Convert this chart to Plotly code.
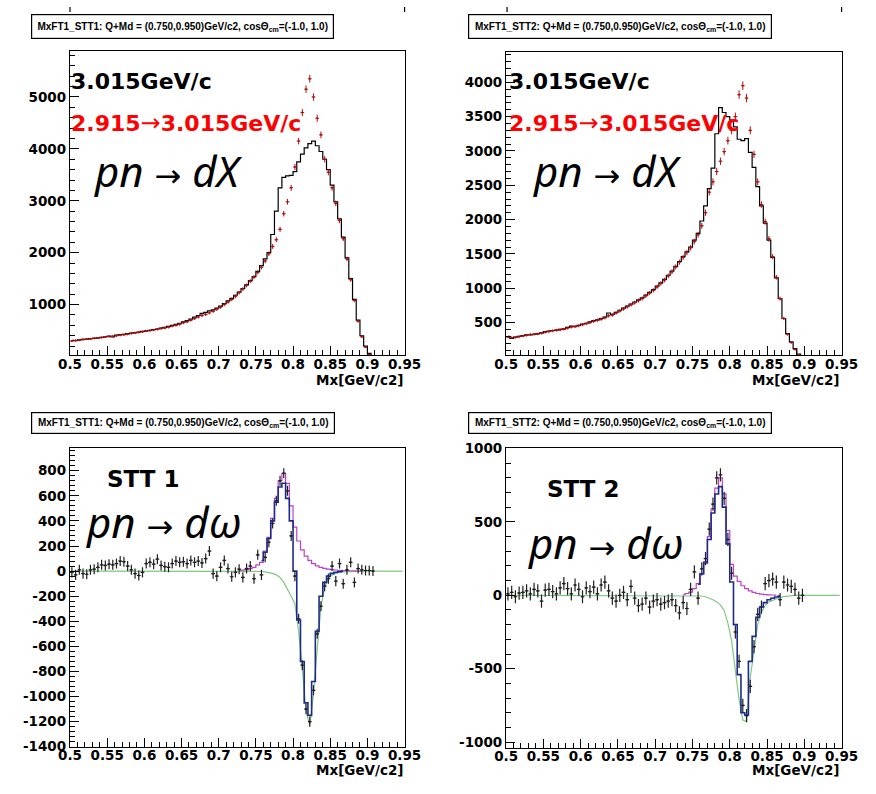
import numpy as np
import plotly.graph_objects as go

W, H = 876, 794
BIN_LO = 0.5
BIN_W = 0.005
X_RANGE = [0.5, 0.95]

# ---------------- data (bin contents, bins of 0.005 starting at 0.5) ----------------
# Top-left: STT1, pn -> dX
STT1_DX_3015 = [
    310, 305, 320, 330, 335, 345, 350, 360, 370, 380,
    395, 375, 410, 420, 425, 440, 450, 460, 470, 485,
    495, 505, 520, 530, 545, 560, 580, 600, 620, 640,
    665, 690, 720, 760, 790, 830, 850, 880, 900, 930,
    970, 1020, 1070, 1120, 1180, 1240, 1310, 1380, 1460, 1540,
    1640, 1750, 1880, 2000, 2350, 2800, 3250, 3450, 3480, 3490,
    3560, 3750, 3900, 4020, 4100, 4150, 4060, 3950, 3800, 3600,
    3300, 2980, 2650, 2300, 1900, 1500, 1100, 700, 400, 200,
    60, 0]
STT1_DX_2915_3015 = [
    300, 310, 315, 325, 335, 340, 350, 355, 365, 375,
    385, 390, 400, 410, 420, 430, 445, 455, 465, 475,
    490, 500, 510, 525, 540, 550, 565, 585, 600, 620,
    650, 670, 700, 730, 760, 790, 810, 840, 870, 910,
    950, 1000, 1050, 1100, 1160, 1230, 1300, 1370, 1450, 1530,
    1620, 1720, 1840, 1980, 2120, 2250, 2450, 2750, 2980, 3250,
    3650, 4150, 4700, 5150, 5350, 5000, 4590, 4270, 3800, 3550,
    3250, 2950, 2620, 2270, 1880, 1480, 1080, 680, 380, 180,
    40, 0]

# Top-right: STT2, pn -> dX
STT2_DX_3015 = [
    300, 270, 290, 300, 310, 320, 320, 330, 340, 350,
    370, 375, 385, 390, 400, 410, 430, 450, 440, 460,
    480, 490, 510, 530, 540, 560, 580, 640, 620, 650,
    680, 710, 740, 770, 800, 830, 860, 900, 940, 980,
    1030, 1080, 1130, 1190, 1250, 1320, 1390, 1460, 1530, 1600,
    1700, 1800, 1980, 2200, 2450, 2750, 3250, 3630, 3560, 3500,
    3450, 3350, 3170, 3150, 3180, 2980, 2760, 2480, 2200, 1950,
    1700, 1450, 1150, 850, 560, 340, 220, 120, 40, 0]
STT2_DX_2915_3015 = [
    290, 280, 285, 295, 305, 315, 325, 330, 335, 345,
    360, 370, 380, 390, 395, 405, 420, 435, 445, 455,
    470, 485, 500, 520, 535, 550, 570, 600, 610, 640,
    670, 700, 730, 760, 790, 820, 850, 890, 930, 970,
    1020, 1070, 1120, 1180, 1240, 1310, 1380, 1450, 1520, 1590,
    1680, 1780, 1910, 2100, 2400, 2550, 2700, 2850, 2990, 3150,
    3300, 3500, 3820, 3950, 3770, 3300, 2950, 2550, 2220, 1970,
    1720, 1460, 1160, 850, 560, 330, 210, 110, 30, 0]

# Bottom-left: STT1, pn -> d omega (background-subtracted)
STT1_OMEGA = [
    -10, -30, 10, -20, -25, 10, 15, 30, 50, 45,
    55, 50, 60, 80, 75, 40, 10, -20, -35, -10,
    60, 70, 55, 95, 45, 35, 30, 60, 80, 70,
    75, 60, 85, 70, 80, 65, 100, 160, -20, -40,
    30, 85, 20, -45, -10, 15, -50, 20, 40, -60,
    130, -30, 110, 230, 380, 560, 720, 780, 640, 280,
    -40, -380, -750, -1100, -1200, -950, -500, -280, -120, -60,
    40, -80, 60, -100, 10, 70, -90, 20, 10, 5,
    5, 0]
STT1_OMEGA_ERR = 40
STT1_SIGNAL_FIRST_BIN = 45
STT1_SIGNAL = [5, 8, 12, 20, 30, 50, 70, 160, 270, 420, 580, 720, 780, 700, 520, 350,
               240, 170, 120, 85, 60, 42, 30, 22, 16, 12, 9, 7, 5, 4, 3, 2, 1, 0]
STT1_BG = [
    0, 0, 0, 0, 0, 0, 0, 0, 0, 0,
    0, 0, 0, 0, 0, 0, 0, 0, 0, 0,
    0, 0, 0, 0, 0, 0, 0, 0, 0, 0,
    0, 0, 0, 0, 0, 0, 0, 0, 0, 0,
    0, 0, 0, 0, 0, 0, 0, 0, 0, 0,
    -2, -3, -6, -10, -18, -30, -50, -90, -140, -200,
    -260, -480, -780, -1120, -1230, -980, -620, -290, -130, -60,
    -30, -18, -10, -6, -4, -2, -1, 0, 0, 0,
    0, 0, 0, 0, 0, 0, 0, 0, 0, 0]
STT1_SUM_FIRST_BIN = 51
STT1_SUM = [85, 150, 260, 400, 550, 670, 700, 580, 400, 0, -390, -720, -1050, -1150,
            -880, -480, -200, -90, -40, -18, -9, -4, -1]

# Bottom-right: STT2, pn -> d omega
STT2_OMEGA = [
    10, 20, -10, 15, 20, 30, 10, 40, 30, -40,
    35, 40, 25, 10, 50, 80, 45, 10, 70, 40,
    -10, 50, 25, 55, 10, 70, 90, 30, -20, -40,
    0, 20, -30, 60, -20, -70, -60, -20, -80, -40,
    -30, -60, -50, -40, -30, -70, -120, -50, -90, 40,
    160, -20, 180, 250, 450, 620, 800, 820, 660, 380,
    150, -250, -450, -750, -820, -620, -350, -130, -80, 80,
    100, 110, 90, -30, 90, 70, 60, 40, -20, 0]
STT2_OMEGA_ERR = 45
STT2_SIGNAL_FIRST_BIN = 47
STT2_SIGNAL = [5, 12, 22, 45, 80, 150, 230, 400, 590, 730, 800, 690, 440, 210, 130, 95,
               65, 45, 30, 20, 12, 8, 5, 3, 2, 1]
STT2_BG = [
    0, 0, 0, 0, 0, 0, 0, 0, 0, 0,
    0, 0, 0, 0, 0, 0, 0, 0, 0, 0,
    0, 0, 0, 0, 0, 0, 0, 0, 0, 0,
    0, 0, 0, 0, 0, 0, 0, 0, 0, 0,
    0, 0, 0, 0, 0, 0, 0, 0, 0, 0,
    0, 0, -5, -10, -18, -30, -45, -65, -105, -190,
    -310, -500, -710, -850, -860, -560, -380, -200, -115, -70,
    -45, -35, -22, -14, -9, -5, -3, -1, 0, 0,
    0, 0, 0, 0, 0, 0, 0, 0, 0, 0]
STT2_SUM_FIRST_BIN = 51
STT2_SUM = [75, 145, 220, 380, 560, 690, 740, 600, 350, 90, -200, -540, -800, -815,
            -450, -280, -150, -80, -50, -30, -20, -12, -6]

# tick labels
Y3_TICKS = [-1400, -1200, -1000, -800, -600, -400, -200, 0, 200, 400, 600, 800]
Y4_TICKS = [-1000, -500, 0, 500, 1000]

TITLE_1 = "MxFT1_STT1: Q+Md = (0.750,0.950)GeV/c2, cos\u0398<sub>cm</sub>=(-1.0, 1.0)"
TITLE_2 = "MxFT1_STT2: Q+Md = (0.750,0.950)GeV/c2, cos\u0398<sub>cm</sub>=(-1.0, 1.0)"
XLABEL = "Mx[GeV/c2]"


def centers(first_bin, n):
    return BIN_LO + (first_bin + 0.5 + np.arange(n)) * BIN_W


def px(xp):
    return xp / W


def py(yp):
    return 1 - yp / H


# ---------------- figure ----------------
fig = go.Figure()

BLACK = "black"
RED = "#b01010"
MAGENTA = "#c040c8"
GREEN = "#80c880"
BLUE = "#1c2a8c"
DATA = "#202020"


def hist_line(vals, xa, ya, color, width=1.2, first_bin=0, shape="hvh"):
    fig.add_trace(go.Scatter(x=centers(first_bin, len(vals)), y=vals, mode="lines",
                             line=dict(color=color, width=width, shape=shape),
                             xaxis=xa, yaxis=ya, hoverinfo="skip"))


def points(vals, xa, ya, color, err_type, err_val=None, thick=1.0):
    ey = dict(type=err_type, color=color, thickness=thick, width=0, visible=True)
    if err_val is not None:
        ey["value"] = err_val
    fig.add_trace(go.Scatter(x=centers(0, len(vals)), y=vals, mode="markers",
                             marker=dict(color=color, size=2),
                             error_y=ey,
                             error_x=dict(type="constant", value=BIN_W / 2, color=color,
                                          thickness=thick, width=0),
                             xaxis=xa, yaxis=ya, hoverinfo="skip"))


# panel 1
hist_line(STT1_DX_3015, "x", "y", BLACK)
points(STT1_DX_2915_3015, "x", "y", RED, "sqrt")
# panel 2
hist_line(STT2_DX_3015, "x2", "y2", BLACK)
points(STT2_DX_2915_3015, "x2", "y2", RED, "sqrt")
# panel 3
hist_line(STT1_BG, "x3", "y3", GREEN, 1.2, 0, "linear")
hist_line(STT1_SIGNAL, "x3", "y3", MAGENTA, 1.2, STT1_SIGNAL_FIRST_BIN)
points(STT1_OMEGA, "x3", "y3", DATA, "constant", STT1_OMEGA_ERR, 1.2)
hist_line(STT1_SUM, "x3", "y3", BLUE, 1.6, STT1_SUM_FIRST_BIN)
# panel 4
hist_line(STT2_BG, "x4", "y4", GREEN, 1.2, 0, "linear")
hist_line(STT2_SIGNAL, "x4", "y4", MAGENTA, 1.2, STT2_SIGNAL_FIRST_BIN)
points(STT2_OMEGA, "x4", "y4", DATA, "constant", STT2_OMEGA_ERR, 1.2)
hist_line(STT2_SUM, "x4", "y4", BLUE, 1.6, STT2_SUM_FIRST_BIN)

TICKFONT = dict(family="DejaVu Sans", size=13.5, color="black", weight="bold")


def axis(domain, rng, dtick=None, minor_dtick=None, anchor=None, tickvals=None,
         standoff=0):
    d = dict(domain=domain, range=rng, showline=True, linecolor="black", linewidth=1.3,
             mirror=True, ticks="inside", ticklen=9, tickwidth=1, tickcolor="black",
             showgrid=False, zeroline=False, tickfont=TICKFONT, anchor=anchor,
             ticklabelstandoff=standoff,
             minor=dict(ticks="inside", ticklen=5, tickwidth=1, tickcolor="black",
                        dtick=minor_dtick, showgrid=False))
    if tickvals is not None:
        d["tickmode"] = "array"
        d["tickvals"] = tickvals
        d["ticktext"] = [str(v) for v in tickvals]
    else:
        d["dtick"] = dtick
        d["tick0"] = 0
    return d


XD_L = [px(60), px(406)]
XD_R = [px(511), px(858)]
XS = -4

fig.update_layout(
    width=W, height=H, margin=dict(l=0, r=0, t=0, b=0),
    paper_bgcolor="white", plot_bgcolor="white", showlegend=False,
    xaxis=axis(XD_L, X_RANGE, 0.05, 0.01, "y", standoff=XS),
    yaxis=axis([py(355), py(45)], [23, 5883], 1000, 200, "x"),
    xaxis2=axis(XD_R, X_RANGE, 0.05, 0.01, "y2", standoff=XS),
    yaxis2=axis([py(355), py(46)], [24, 4439], 500, 100, "x2"),
    xaxis3=axis(XD_L, X_RANGE, 0.05, 0.01, "y3", standoff=XS),
    yaxis3=axis([py(754), py(449)], [-1400, 985], None, 40, "x3", Y3_TICKS),
    xaxis4=axis(XD_R, X_RANGE, 0.05, 0.01, "y4", standoff=XS),
    yaxis4=axis([py(755), py(449)], [-1038, 1006], None, 100, "x4", Y4_TICKS),
)
for ax in ["xaxis", "xaxis2", "xaxis3", "xaxis4"]:
    fig.layout[ax].tick0 = 0.5

annotations = []


def ann(text, x, y, size, color="black", family="DejaVu Sans", weight="bold",
        style="normal", xanchor="left", yanchor="middle"):
    annotations.append(dict(text=text, x=px(x), y=py(y), xref="paper", yref="paper",
                            showarrow=False, xanchor=xanchor, yanchor=yanchor, borderpad=0,
                            font=dict(family=family, size=size, color=color,
                                      weight=weight, style=style)))


def title_box(text, x0, y0, w, h):
    annotations.append(dict(text=text, x=px(x0), y=py(y0), xref="paper", yref="paper",
                            showarrow=False, xanchor="left", yanchor="top",
                            width=w, height=h, bordercolor="black", borderwidth=1.2,
                            borderpad=0, bgcolor="white", align="center", valign="middle",
                            font=dict(family="Liberation Sans", size=10, color="black",
                                      weight="bold")))


title_box(TITLE_1, 20, 7, 301, 23)
title_box(TITLE_2, 472, 7, 302, 23)
title_box(TITLE_1, 20, 413, 302, 20)
title_box(TITLE_2, 472, 413, 302, 20)

ARROW_BIG = '<span style="font-family:DejaVu Sans;font-size:32px;font-style:normal">\u2192</span>'
ARROW_RED = '<span style="font-family:DejaVu Sans;font-size:24px;font-weight:normal">\u2192</span>'

for x0 in (60, 513):
    ann("3.015GeV/c", x0, 76, 22)
    ann("2.915" + ARROW_RED + "3.015GeV/c", x0, 118.5, 22, color="#ff0000")
for x0 in (84, 538):
    ann("pn " + ARROW_BIG + " dX", x0, 167, 42, family="Noto Sans", weight="normal",
        style="italic")

ann("STT 1", 97, 481, 23)
ann("STT 2", 552, 491, 23)
ann("pn " + ARROW_BIG + " d\u03c9", 76, 524, 42, family="Noto Sans", weight="normal",
    style="italic")
ann("pn " + ARROW_BIG + " d\u03c9", 533, 546, 42, family="Noto Sans", weight="normal",
    style="italic")

for xr, yc in ((406, 380), (857, 380), (406, 778), (857, 778)):
    ann(XLABEL, xr, yc, 13.5, xanchor="right")

fig.update_layout(annotations=annotations)

# remnants of frames above the top row (cropped slide)
shapes = []
for xs in (60, 406, 512, 858):
    shapes.append(dict(type="line", xref="paper", yref="paper", x0=px(xs), x1=px(xs),
                       y0=py(0), y1=py(5), line=dict(color="black", width=1.2)))
fig.update_layout(shapes=shapes)

fig.write_html("out.html")
